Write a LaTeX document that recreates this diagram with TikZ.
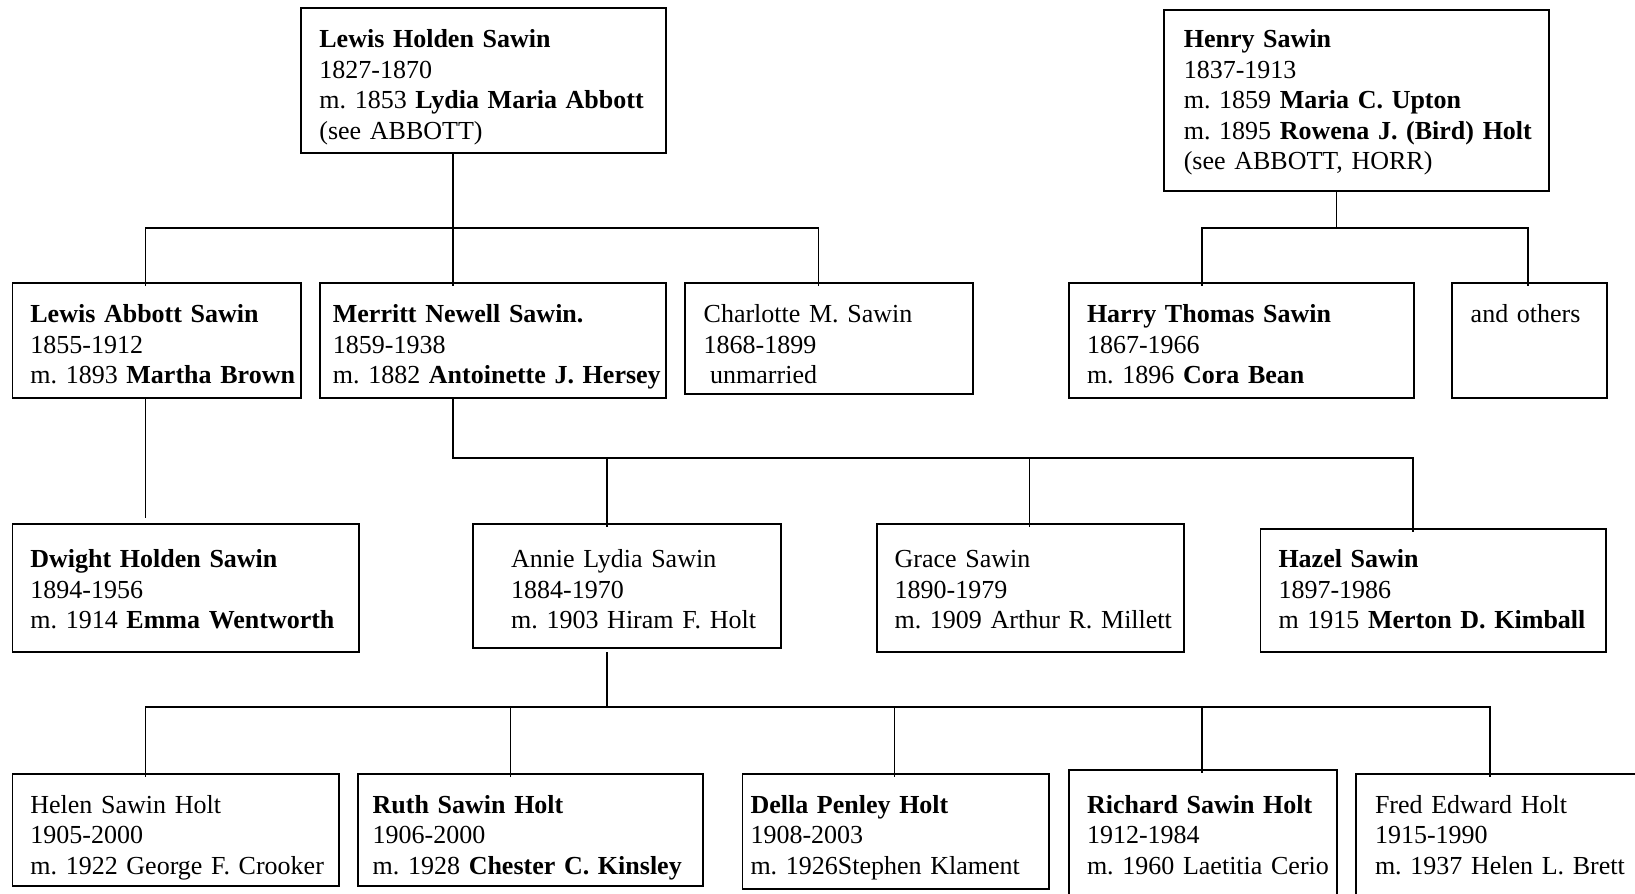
\documentclass[tikz,border=0pt]{standalone}
\usepackage{fontspec}
\setmainfont{Liberation Serif}
\usepackage{tikz}
\usetikzlibrary{positioning, calc}

\begin{document}
\begin{tikzpicture}[
    x=0.5pt, y=-0.5pt,
    person/.style={rectangle, draw=black, line width=0.9pt, anchor=north west,
        inner sep=0pt, align=left, font=\fontsize{13}{15.25}\selectfont\frenchspacing},
    lpad/.style={execute at begin node={\leftskip=#1\rightskip=-30pt plus 1fil}},
    link/.style={draw=black, line width=0.9pt, line cap=rect},
    drop/.style={link, shorten >=-1.5pt}
]
    \useasboundingbox (0,0) rectangle (1635,894);
    \clip (0,0) rectangle (1635,894);

    % first generation
    \node[person, text width=182.8pt, text height=19.7pt, text depth=52.5pt, lpad=9.4pt] (lhs) at (299.7,7.3)
        {\textbf{Lewis Holden Sawin}\\1827-1870\\m. 1853 \textbf{Lydia Maria Abbott}\\(see ABBOTT)};
    \node[person, text width=192.2pt, text height=18.7pt, text depth=71.65pt, lpad=9.8pt] (hs) at (1163.3,9.3)
        {\textbf{Henry Sawin}\\1837-1913\\m. 1859 \textbf{Maria C. Upton}\\m. 1895 \textbf{Rowena J. (Bird) Holt}\\(see ABBOTT, HORR)};

    % second generation
    \node[person, text width=144.35pt, text height=20pt, text depth=37.5pt, lpad=9pt] (las) at (11.5,281.7)
        {\textbf{Lewis Abbott Sawin}\\1855-1912\\m. 1893 \textbf{Martha Brown}};
    \node[person, text width=173.15pt, text height=20pt, text depth=37.5pt, lpad=6.5pt] (mns) at (319,281.7)
        {\textbf{Merritt Newell Sawin.}\\1859-1938\\m. 1882 \textbf{Antoinette J. Hersey}};
    \node[person, text width=143.95pt, text height=20pt, text depth=35.8pt, lpad=9.4pt] (cms) at (684,281.7)
        {Charlotte M. Sawin\\1868-1899\\\hspace*{0.25em}unmarried};
    \node[person, text width=172.6pt, text height=20pt, text depth=37.8pt, lpad=9pt] (hts) at (1068.1,281.7)
        {\textbf{Harry Thomas Sawin}\\1867-1966\\m. 1896 \textbf{Cora Bean}};
    \node[person, text width=77.4pt, text height=20pt, text depth=37.8pt, lpad=9.4pt] (oth) at (1451,281.7)
        {and others};

    % third generation
    \node[person, text width=173.1pt, text height=21.7pt, text depth=42pt, lpad=9pt] (dhs) at (11.5,523.3)
        {\textbf{Dwight Holden Sawin}\\1894-1956\\m. 1914 \textbf{Emma Wentworth}};
    \node[person, text width=154pt, text height=21.7pt, text depth=40pt, lpad=19pt] (als) at (472.3,523.3)
        {Annie Lydia Sawin\\1884-1970\\m. 1903 Hiram F. Holt};
    \node[person, text width=153.75pt, text height=21.7pt, text depth=42pt, lpad=9pt] (gs) at (875.7,523.3)
        {Grace Sawin\\1890-1979\\m. 1909 Arthur R. Millett};
    \node[person, text width=172.85pt, text height=19.5pt, text depth=42pt, lpad=9pt] (hzs) at (1259.6,527.7)
        {\textbf{Hazel Sawin}\\1897-1986\\m 1915 \textbf{Merton D. Kimball}};

    % fourth generation
    \node[person, text width=163.2pt, text height=19.5pt, text depth=36.35pt, lpad=9pt] (hsh) at (11.5,773.3)
        {Helen Sawin Holt\\1905-2000\\m. 1922 George F. Crooker};
    \node[person, text width=172.6pt, text height=19.5pt, text depth=36.35pt, lpad=7.3pt] (rsh) at (357.2,773.3)
        {\textbf{Ruth Sawin Holt}\\1906-2000\\m. 1928 \textbf{Chester C. Kinsley}};
    \node[person, text width=153.35pt, text height=19.5pt, text depth=38pt, lpad=4pt] (dph) at (741.6,773.3)
        {\textbf{Della Penley Holt}\\1908-2003\\m. 1926Stephen Klament};
    \node[person, text width=134.15pt, text height=21.65pt, text depth=50pt, lpad=9pt] (rch) at (1068.1,769)
        {\textbf{Richard Sawin Holt}\\1912-1984\\m. 1960 Laetitia Cerio};
    \node[person, text width=147.35pt, text height=19.5pt, text depth=50pt, lpad=9.4pt] (feh) at (1355.3,773.3)
        {Fred Edward Holt\\1915-1990\\m. 1937 Helen L. Brett};

    % Lewis Holden Sawin -> children
    \foreach \c/\x in {las/145.4, mns/452.9, cms/818.5} {
        \coordinate (up-\c) at (\x,228.3);
        \draw[drop] (up-\c) -- (up-\c |- \c.north);
    }
    \draw[link] (lhs.south -| up-mns) -- (up-mns);
    \draw[link] (up-las) -- (up-cms);

    % Henry Sawin -> children
    \foreach \c/\x in {hts/1202, oth/1527.9} {
        \coordinate (up-\c) at (\x,228.3);
        \draw[drop] (up-\c) -- (up-\c |- \c.north);
    }
    \coordinate (fk2) at (1336.4,228.3);
    \draw[link] (hs.south -| fk2) -- (fk2);
    \draw[link] (up-hts) -- (up-oth);

    % Lewis Abbott Sawin -> Dwight
    \draw[link, shorten >=3.3pt] (las.south -| up-las) -- (up-las |- dhs.north);

    % Merritt Newell Sawin -> children
    \foreach \c/\x in {als/606.7, gs/1029.4, hzs/1412.8} {
        \coordinate (up-\c) at (\x,458.3);
        \draw[drop] (up-\c) -- (up-\c |- \c.north);
    }
    \coordinate (fk4) at (452.9,458.3);
    \draw[link] (mns.south -| fk4) -- (fk4) -- (up-hzs);

    % Annie Lydia Sawin -> children
    \foreach \c/\x in {hsh/145.4, rsh/510.5, dph/894.5, rch/1202, feh/1489.7} {
        \coordinate (up-\c) at (\x,707.3);
        \draw[drop] (up-\c) -- (up-\c |- \c.north);
    }
    \coordinate (fk5) at (606.7,707.3);
    \draw[link, shorten <=2pt] (als.south -| fk5) -- (fk5);
    \draw[link] (up-hsh) -- (up-feh);
\end{tikzpicture}
\end{document}
